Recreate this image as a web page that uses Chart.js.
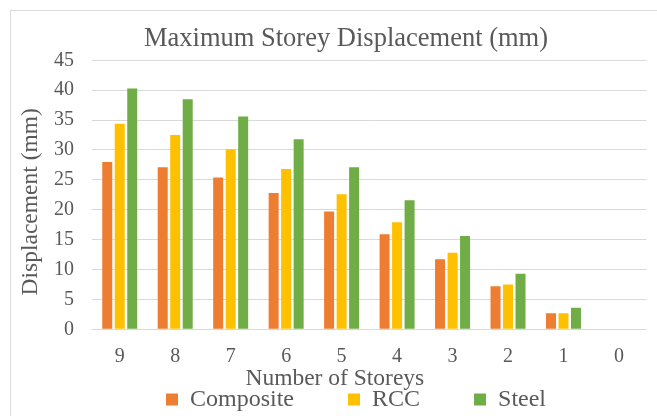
<!DOCTYPE html>
<html>
<head>
<meta charset="utf-8">
<script src="https://cdn.jsdelivr.net/npm/chart.js@4.4.0/dist/chart.umd.min.js"></script>
<style>
html,body{margin:0;padding:0;background:#fff;overflow:hidden}
#wrap{position:relative;width:657px;height:416px}
</style>
</head>
<body>
<div id="wrap"><canvas id="c" width="657" height="416"></canvas></div>
<script>
const categories = ['9', '8', '7', '6', '5', '4', '3', '2', '1', '0'];
const compositeValues = [28.0, 27.1, 25.4, 22.8, 19.7, 15.9, 11.7, 7.2, 2.7, 0];
const rccValues = [34.4, 32.5, 30.1, 26.8, 22.6, 17.9, 12.8, 7.5, 2.7, 0];
const steelValues = [40.3, 38.5, 35.6, 31.8, 27.1, 21.6, 15.6, 9.3, 3.6, 0];
const seriesNames = ['Composite', 'RCC', 'Steel'];
const yMin = 0, yMax = 45, yStep = 5;

const FONT = 'Liberation Serif, Times New Roman, serif';
const TEXT = '#595959';

const framePlugin = {
  id: 'frame',
  beforeDraw(chart) {
    const ctx = chart.ctx;
    ctx.save();
    ctx.strokeStyle = '#d9d9d9';
    ctx.lineWidth = 1;
    ctx.strokeRect(10.5, 10.5, chart.width + 20, chart.height + 20);
    ctx.restore();
  }
};

// Place the title / legend blocks like the original (Excel-style) layout
const placePlugin = {
  id: 'place',
  afterLayout(chart) {
    const tb = chart.titleBlock;
    if (tb) { tb.left = 45.3; tb.right = 646.7; }
    const lg = chart.legend;
    if (lg) {
      const p = lg.options.labels.padding;
      lg.left = 166 - p;
      lg.right = chart.width;
      lg.top = 387.5 - p;
      lg.bottom = chart.height;
    }
  }
};

function shiftTitle(scale, dx, dy) {
  if (scale._titleShifted) return;
  scale._titleShifted = true;
  const orig = scale.drawTitle;
  scale.drawTitle = function () {
    const l = this.left, r = this.right, t = this.top, b = this.bottom;
    this.left = l + dx; this.right = r + dx; this.top = t + dy; this.bottom = b + dy;
    orig.apply(this, arguments);
    this.left = l; this.right = r; this.top = t; this.bottom = b;
  };
}

new Chart(document.getElementById('c'), {
  type: 'bar',
  data: {
    labels: categories,
    datasets: [
      { label: seriesNames[0], data: compositeValues, backgroundColor: '#ED7D31', borderWidth: 0 },
      { label: seriesNames[1], data: rccValues, backgroundColor: '#FFC000', borderWidth: 0 },
      { label: seriesNames[2], data: steelValues, backgroundColor: '#70AD47', borderWidth: 0 }
    ]
  },
  options: {
    responsive: false,
    animation: false,
    devicePixelRatio: 1,
    categoryPercentage: 0.676,
    barPercentage: 0.8,
    layout: { padding: { left: 0, right: 10.3, top: 0, bottom: 0 } },
    plugins: {
      title: {
        display: true,
        text: 'Maximum Storey Displacement (mm)',
        color: TEXT,
        font: { family: FONT, size: 26.5, weight: 'normal' },
        padding: { top: 23, bottom: 5.5 }
      },
      legend: {
        display: true,
        position: 'bottom',
        align: 'start',
        maxHeight: 23,
        labels: {
          boxWidth: 12,
          boxHeight: 12,
          padding: 54,
          color: TEXT,
          font: { family: FONT, size: 24 }
        }
      },
      tooltip: { enabled: false }
    },
    scales: {
      x: {
        grid: { display: false, drawTicks: false },
        border: { display: false },
        ticks: { padding: 15, color: TEXT, font: { family: FONT, size: 20 } },
        title: {
          display: true,
          text: 'Number of Storeys',
          color: TEXT,
          font: { family: FONT, size: 23.5 },
          padding: { top: 0, bottom: 0 }
        },
        afterFit(s) { s.height = 63.7; shiftTitle(s, -34.5, 0); }
      },
      y: {
        min: yMin,
        max: yMax,
        grid: { color: '#d9d9d9', lineWidth: 1, drawTicks: false },
        border: { display: false },
        ticks: { stepSize: yStep, padding: 18, color: TEXT, font: { family: FONT, size: 20 } },
        title: {
          display: true,
          text: 'Displacement (mm)',
          color: TEXT,
          font: { family: FONT, size: 23.5 },
          padding: { top: 17, bottom: 0 }
        },
        afterFit(s) { s.width = 92; shiftTitle(s, 0, 7); }
      }
    }
  },
  plugins: [framePlugin, placePlugin]
});
</script>
</body>
</html>
